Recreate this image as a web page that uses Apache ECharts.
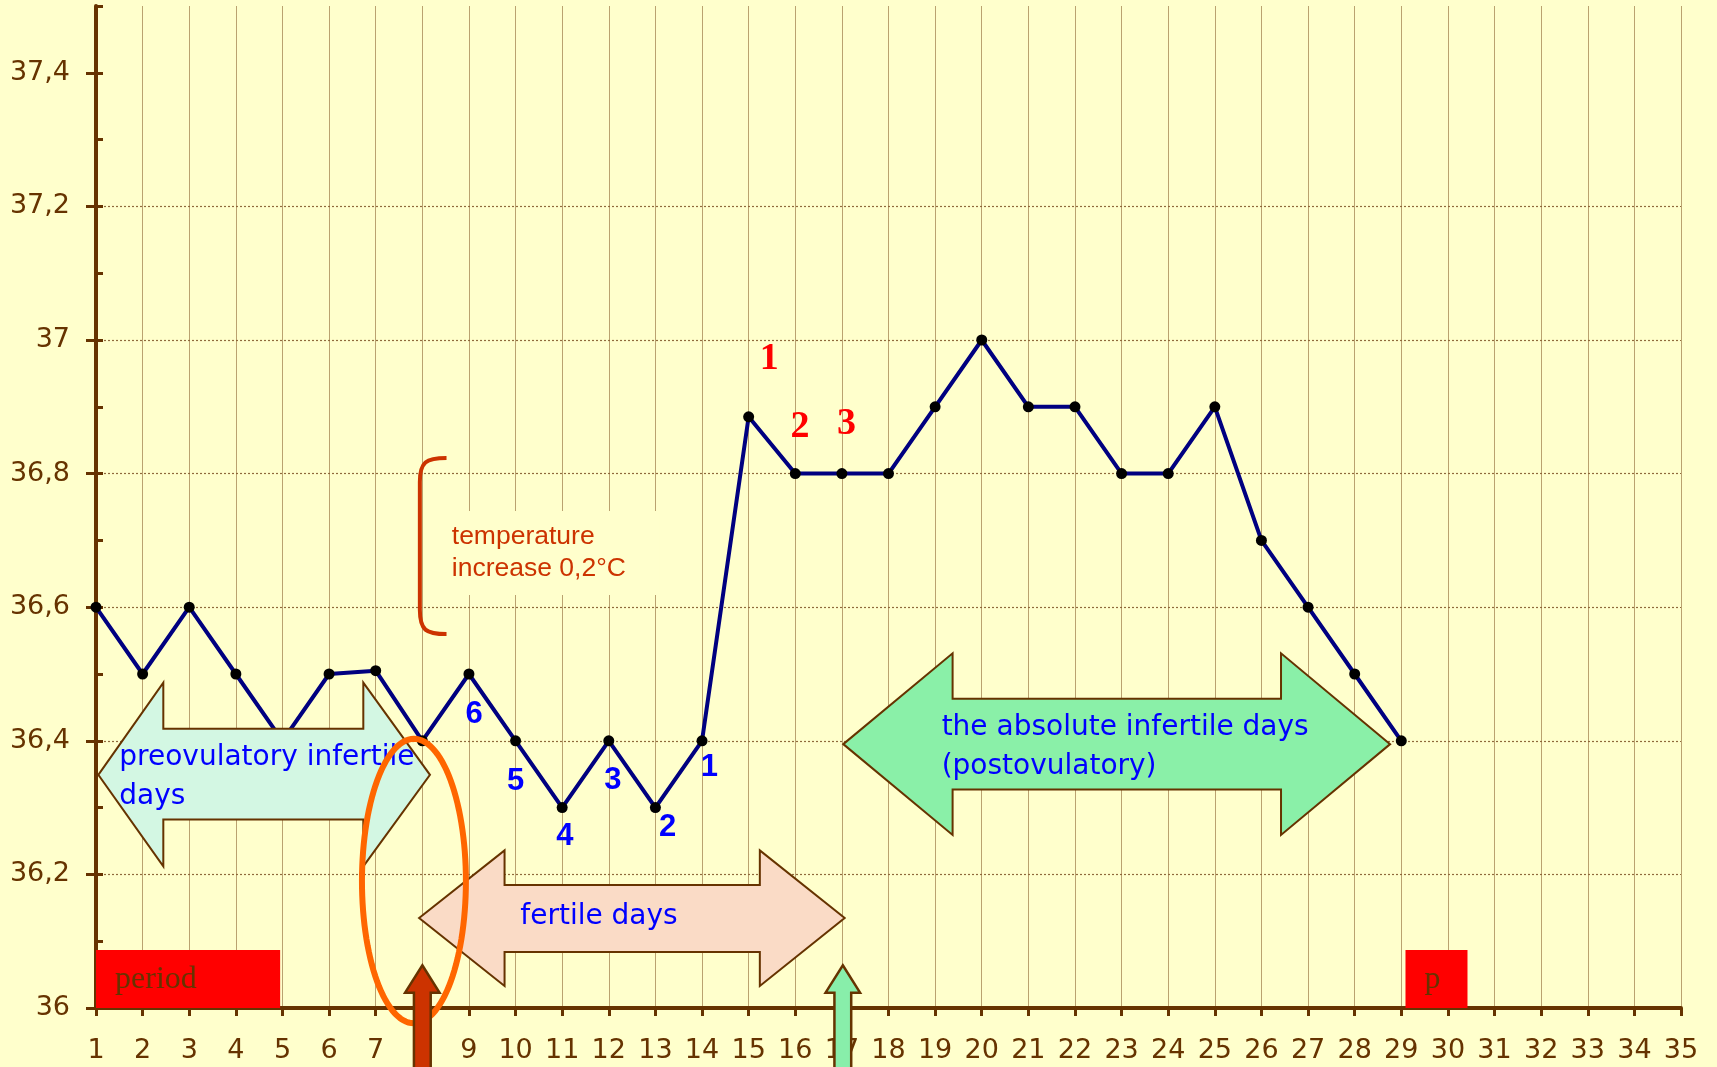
<!DOCTYPE html>
<html>
<head>
<meta charset="utf-8">
<script src="https://cdn.jsdelivr.net/npm/echarts@6/dist/echarts.min.js"></script>
<style>
html,body{margin:0;padding:0;background:#FFFFCC;}
#chart{width:1717px;height:1067px;}
</style>
</head>
<body>
<div id="chart"></div>
<script>
// ---------- data ----------
const days  = [1,2,3,4,5,6,7,8,9,10,11,12,13,14,15,16,17,18,19,20,21,22,23,24,25,26,27,28,29];
const temps = [36.6,36.5,36.6,36.5,36.4,36.5,36.505,36.4,36.5,36.4,36.3,36.4,36.3,36.4,36.885,36.8,36.8,36.8,36.9,37.0,36.9,36.9,36.8,36.8,36.9,36.7,36.6,36.5,36.4];
const xTickLabels = ['1','2','3','4','5','6','7','8','9','10','11','12','13','14','15','16','17','18','19','20','21','22','23','24','25','26','27','28','29','30','31','32','33','34','35'];
const yTickValues = [36, 36.2, 36.4, 36.6, 36.8, 37, 37.2, 37.4];
const yTickLabels = ['36','36,2','36,4','36,6','36,8','37','37,2','37,4'];
const periodNames = ['period', 'p'];
const periodStart = [1, 29.09];
const periodEnd   = [4.95, 30.42];
const lowCountLabels  = ['6','5','4','3','2','1'];
const highCountLabels = ['1','2','3'];
const arrowTexts = ['preovulatory infertile\ndays', 'fertile days', 'the absolute infertile days\n(postovulatory)'];
const noteText = 'temperature\nincrease 0,2°C';

// ---------- annotation placement (data units) ----------
const A = {
  periodTop: 36.087,
  periodTextPos: [[1.41, 36.042], [29.5, 36.042]],
  lowCountPos: [[9.11,36.439],[10.0,36.339],[11.06,36.257],[12.09,36.341],[13.26,36.27],[14.16,36.36]],
  highCountPos: [[15.44,36.971],[16.10,36.87],[17.10,36.874]],
  arrows: [
    {x0:1.05, xa:2.444, xb:6.734, x1:8.164, yc:36.349, ht:36.487, hb:36.212, st:36.418, sb:36.282, fill:'#d3f7e3'},
    {x0:7.931, xa:9.764, xb:15.24, x1:17.06, yc:36.1346, ht:36.236, hb:36.033, st:36.184, sb:36.084, fill:'#fadbc6'},
    {x0:17.03, xa:19.375, xb:26.42, x1:28.76, yc:36.395, ht:36.531, hb:36.259, st:36.463, sb:36.327, fill:'#8af0a8'}
  ],
  arrowTextPos: [[1.5, 36.346, 'left'], [11.79, 36.137, 'center'], [19.14, 36.39, 'left']],
  bracket: {x:7.947, xe:8.519, yt:36.8235, yb:36.5597},
  notePos: [8.46, 36.681],
  ellipse: {cx:7.82, cy:36.19, rx:1.115, ry:0.2129},
  vArrows: [
    {x:8.0, fill:'#cc3300'},
    {x:17.02, fill:'#88eeaa'}
  ],
  vTip: 36.064, vHead: 36.023, vBottom: 35.8, vHeadHalf: 0.37, vShaftHalf: 0.18
};

const BROWN = '#663300';
const lineData = days.map((d, i) => [d, temps[i]]);

function renderAnnotations(params, api) {
  const c = (x, y) => api.coord([x, y]);
  const kids = [];
  // period boxes
  for (let i = 0; i < periodNames.length; i++) {
    const p0 = c(periodStart[i], A.periodTop), p1 = c(periodEnd[i], 36);
    kids.push({type:'rect', shape:{x:p0[0], y:p0[1], width:p1[0]-p0[0], height:p1[1]-p0[1]}, style:{fill:'#ff0000'}});
    const tp = c(A.periodTextPos[i][0], A.periodTextPos[i][1]);
    kids.push({type:'text', x:tp[0], y:tp[1], style:{text:periodNames[i], fill:BROWN, font:'32px "Liberation Serif"', align:'left', verticalAlign:'middle'}});
  }
  // horizontal double arrows
  A.arrows.forEach(a => {
    const pts = [
      [a.x0, a.yc], [a.xa, a.ht], [a.xa, a.st], [a.xb, a.st], [a.xb, a.ht], [a.x1, a.yc],
      [a.xb, a.hb], [a.xb, a.sb], [a.xa, a.sb], [a.xa, a.hb]
    ].map(p => c(p[0], p[1]));
    kids.push({type:'polygon', shape:{points:pts}, style:{fill:a.fill, stroke:BROWN, lineWidth:2}});
  });
  arrowTexts.forEach((t, i) => {
    const p = c(A.arrowTextPos[i][0], A.arrowTextPos[i][1]);
    kids.push({type:'text', x:p[0], y:p[1], style:{text:t, fill:'#0000ff', font:'28px "DejaVu Sans"', lineHeight:39, align:A.arrowTextPos[i][2], verticalAlign:'middle'}});
  });
  // bracket
  const b = A.bracket;
  const X = c(b.x, 0)[0], Xe = c(b.xe, 0)[0], Yt = c(0, b.yt)[1], Yb = c(0, b.yb)[1];
  kids.push({type:'path', shape:{pathData:
    'M' + Xe + ' ' + Yt + ' C' + (X+6) + ' ' + Yt + ' ' + X + ' ' + (Yt+4) + ' ' + X + ' ' + (Yt+24) +
    ' L' + X + ' ' + (Yb-24) + ' C' + X + ' ' + (Yb-4) + ' ' + (X+6) + ' ' + Yb + ' ' + Xe + ' ' + Yb},
    style:{fill:'none', stroke:'#cc3300', lineWidth:4}});
  const np = c(A.notePos[0], A.notePos[1]);
  kids.push({type:'text', x:np[0], y:np[1], style:{text:noteText, fill:'#cc3300', font:'26.5px "Liberation Sans"', lineHeight:32, align:'left', verticalAlign:'middle', backgroundColor:'#ffffcc', padding:[10, 34, 10, 8]}});
  // count numbers
  lowCountLabels.forEach((t, i) => {
    const p = c(A.lowCountPos[i][0], A.lowCountPos[i][1]);
    kids.push({type:'text', x:p[0], y:p[1], style:{text:t, fill:'#0000ff', font:'bold 31px "Liberation Sans"', align:'center', verticalAlign:'middle'}});
  });
  highCountLabels.forEach((t, i) => {
    const p = c(A.highCountPos[i][0], A.highCountPos[i][1]);
    kids.push({type:'text', x:p[0], y:p[1], style:{text:t, fill:'#ff0000', font:'bold 38px "Liberation Serif"', align:'center', verticalAlign:'middle'}});
  });
  // ellipse
  const e = A.ellipse;
  const ec = c(e.cx, e.cy);
  const erx = api.size([e.rx, 0])[0], ery = api.size([0, e.ry])[1];
  const ePts = [];
  for (let k = 0; k < 120; k++) {
    const t = k / 120 * Math.PI * 2;
    ePts.push([ec[0] + erx * Math.cos(t), ec[1] + ery * Math.sin(t)]);
  }
  kids.push({type:'polygon', shape:{points:ePts}, style:{fill:'none', stroke:'#ff6600', lineWidth:6}});
  // vertical arrows
  A.vArrows.forEach(v => {
    const pts = [
      [v.x, A.vTip], [v.x + A.vHeadHalf, A.vHead], [v.x + A.vShaftHalf, A.vHead], [v.x + A.vShaftHalf, A.vBottom],
      [v.x - A.vShaftHalf, A.vBottom], [v.x - A.vShaftHalf, A.vHead], [v.x - A.vHeadHalf, A.vHead]
    ].map(p => c(p[0], p[1]));
    kids.push({type:'polygon', shape:{points:pts}, style:{fill:v.fill, stroke:BROWN, lineWidth:2.5}});
  });
  return {type:'group', children:kids};
}

const chart = echarts.init(document.getElementById('chart'), null, {renderer:'canvas'});
chart.setOption({
  backgroundColor: '#FFFFCC',
  animation: false,
  grid: {left:96, right:36, top:6, bottom:59, containLabel:false},
  xAxis: {
    type:'value', min:1, max:35, interval:1,
    axisLine:{show:true, lineStyle:{color:BROWN, width:4}},
    axisTick:{show:true, length:8, lineStyle:{color:BROWN, width:3}},
    axisLabel:{color:BROWN, fontSize:27, fontFamily:'DejaVu Sans', margin:29,
      formatter: v => xTickLabels[Math.round(v) - 1] || ''},
    splitLine:{show:true, lineStyle:{color:'rgba(140,100,50,0.6)', width:1}}
  },
  yAxis: [{
    type:'value', min:36, max:37.5,
    axisLine:{show:true, lineStyle:{color:BROWN, width:4}},
    axisTick:{show:true, length:10, lineStyle:{color:BROWN, width:3}, customValues: yTickValues},
    axisLabel:{color:BROWN, fontSize:27, fontFamily:'DejaVu Sans', margin:26, customValues: yTickValues,
      formatter: v => { const i = yTickValues.findIndex(t => Math.abs(t - v) < 1e-6); return i >= 0 ? yTickLabels[i] : ''; }},
    splitLine:{show:true, showMaxLine:false, lineStyle:{color:'#8f6a3c', width:1.2, type:[2,2]}}
  }, {
    type:'value', min:36, max:37.5, interval:0.1, position:'left',
    axisLine:{show:false},
    axisTick:{show:true, inside:true, length:7, lineStyle:{color:BROWN, width:3}},
    axisLabel:{show:false},
    splitLine:{show:false}
  }],
  series: [{
    type:'line', data:lineData, z:2,
    lineStyle:{color:'#000080', width:4},
    symbol:'circle', symbolSize:11,
    itemStyle:{color:'#000000'},
    silent:true
  }, {
    type:'custom', z:3, clip:false, silent:true,
    data:[[1, 36]],
    renderItem: renderAnnotations
  }]
});
</script>
</body>
</html>
